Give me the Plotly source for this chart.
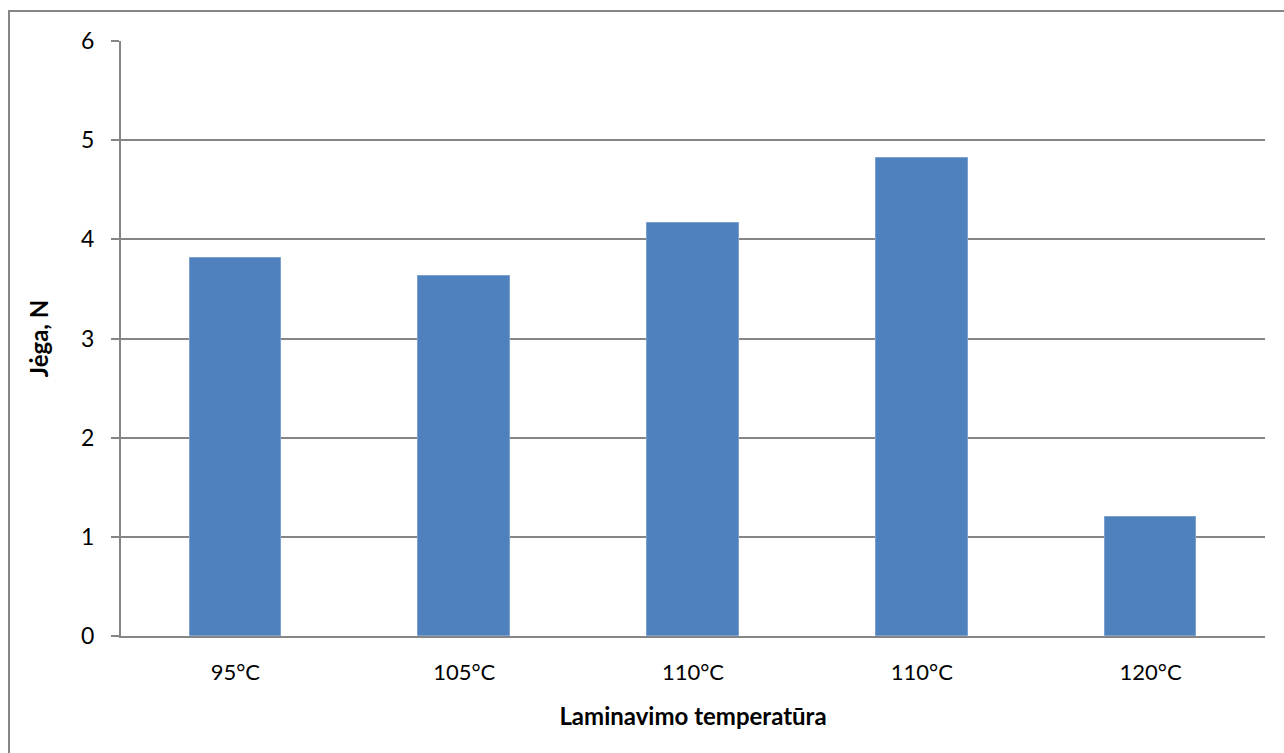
import plotly.graph_objects as go

# Laminating temperature categories (two separate runs at 110°C)
categories = ["95°C", "105°C", "110°C", "110°C", "120°C"]
force_n = [3.81, 3.63, 4.16, 4.82, 1.20]
y_ticks = [0, 1, 2, 3, 4, 5, 6]

positions = list(range(len(categories)))

fig = go.Figure(
    go.Bar(
        x=positions,
        y=force_n,
        width=0.4,
        marker=dict(color="#4F81BD", line=dict(color="#7A9FD0", width=1)),
        hoverinfo="skip",
    )
)

font_family = "Lato, 'Open Sans', sans-serif"
axis_grey = "#868686"

fig.update_layout(
    width=1284,
    height=753,
    margin=dict(l=121, r=19, t=41, b=117),
    paper_bgcolor="white",
    plot_bgcolor="white",
    font=dict(family=font_family, size=22, color="black"),
    showlegend=False,
    bargap=0,
)

fig.update_xaxes(
    range=[-0.5, len(categories) - 0.5],
    tickmode="array",
    tickvals=positions,
    ticktext=categories,
    ticks="",
    ticklabelstandoff=16,
    showgrid=False,
    showline=True,
    linecolor=axis_grey,
    linewidth=2,
    zeroline=False,
    tickfont=dict(size=22),
    title=dict(text="<b>Laminavimo temperatūra</b>", font=dict(size=24), standoff=24),
)

fig.update_yaxes(
    range=[0, 6],
    tickmode="array",
    tickvals=y_ticks,
    ticks="outside",
    ticklen=8,
    tickcolor=axis_grey,
    tickwidth=2,
    ticklabelstandoff=12,
    showgrid=True,
    gridcolor=axis_grey,
    gridwidth=1.5,
    showline=True,
    linecolor=axis_grey,
    linewidth=2,
    zeroline=False,
    tickfont=dict(size=23),
    title=dict(text="<b>Jėga, N</b>", font=dict(size=24), standoff=26),
)

# Chart-area frame around the whole figure
fig.add_shape(
    type="rect",
    xref="paper",
    yref="paper",
    x0=(9 - 121) / 1144,
    x1=(1300 - 121) / 1144,
    y0=(636 - 770) / 595,
    y1=(636 - 11) / 595,
    line=dict(color=axis_grey, width=2),
    fillcolor="rgba(0,0,0,0)",
    layer="below",
)

fig.write_html("out.html")
